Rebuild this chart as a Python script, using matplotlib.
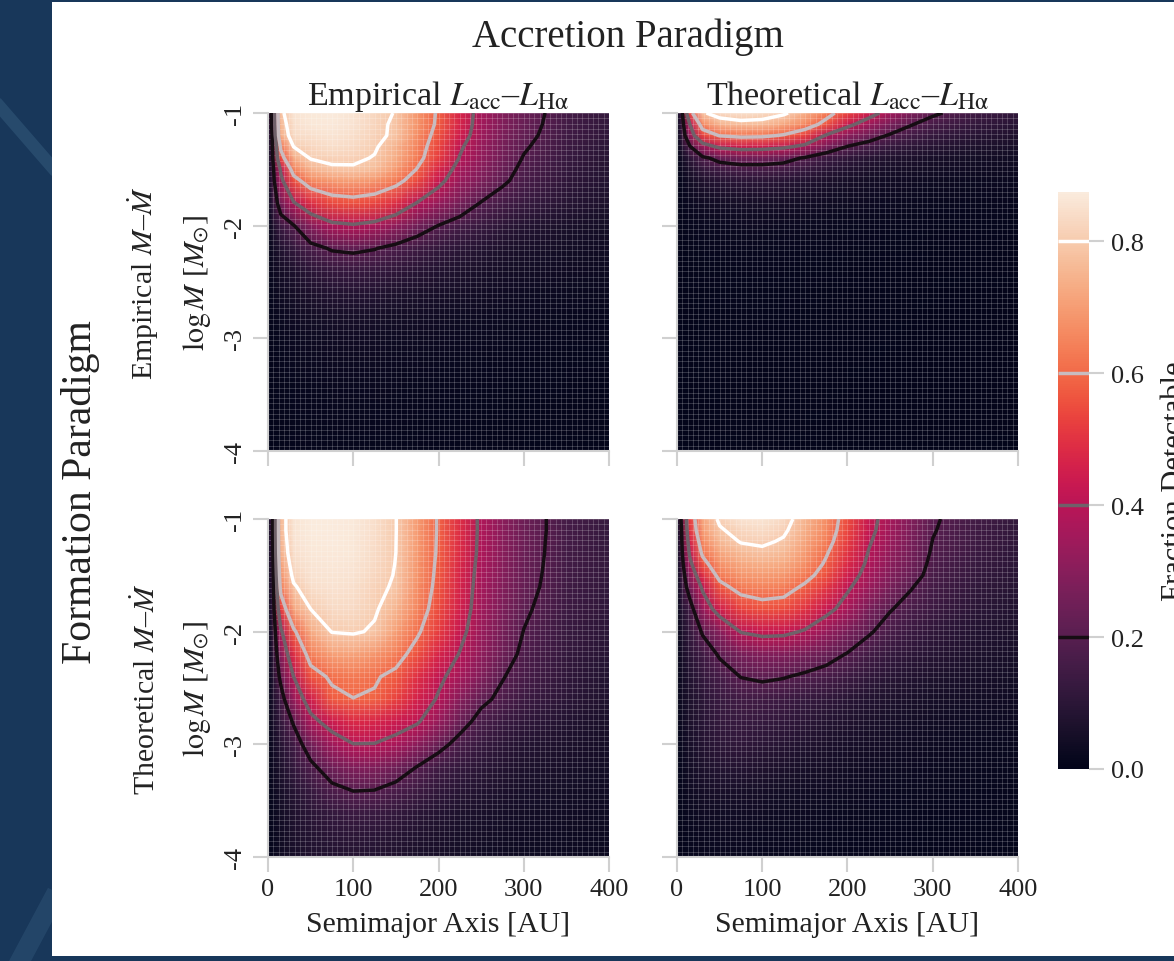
import numpy as np
import matplotlib
matplotlib.use("Agg")
import matplotlib.pyplot as plt
import seaborn as sns
from matplotlib.patches import Rectangle
from matplotlib.lines import Line2D
from matplotlib.colors import Normalize

plt.rcParams['font.family'] = ['Liberation Serif', 'DejaVu Serif']
plt.rcParams['mathtext.fontset'] = 'stix'
plt.rcParams['axes.unicode_minus'] = False

# grid nodes: semimajor axis [AU] and log planet mass [Msun]
A_AU = [0, 5, 15, 30, 50, 75, 100, 125, 150, 175, 200, 225, 250, 275, 300, 350, 400]
LOG_M = [-1.0, -1.1, -1.2, -1.3, -1.4, -1.5, -1.6, -1.8, -2.0, -2.2,
         -2.4, -2.6, -2.8, -3.0, -3.2, -3.4, -3.6, -3.8, -4.0]

# fraction detectable, one row per LOG_M node (top row = -1.0)
EMP_FORM_EMP_ACC = [
    [0, .25, .78, .86, .87, .875, .86, .83, .795, .69, .585, .47, .36, .29, .24, .16, .12],
    [0, .24, .76, .85, .865, .87, .855, .825, .785, .685, .58, .465, .355, .285, .235, .155, .115],
    [0, .21, .74, .84, .85, .86, .845, .82, .785, .67, .56, .45, .345, .275, .225, .15, .11],
    [0, .19, .62, .80, .83, .845, .835, .81, .75, .65, .54, .415, .33, .265, .21, .14, .10],
    [0, .18, .55, .74, .805, .82, .815, .795, .735, .635, .52, .395, .32, .255, .195, .13, .09],
    [0, .16, .42, .65, .75, .785, .79, .77, .70, .595, .475, .36, .30, .235, .18, .12, .085],
    [0, .15, .37, .56, .66, .70, .71, .69, .635, .545, .43, .335, .28, .215, .17, .11, .08],
    [0, .11, .26, .39, .49, .545, .56, .54, .49, .395, .33, .26, .195, .16, .13, .09, .065],
    [0, .06, .14, .195, .30, .375, .39, .37, .315, .25, .198, .16, .13, .105, .085, .06, .045],
    [0, .04, .08, .12, .17, .21, .22, .205, .175, .145, .12, .10, .085, .07, .06, .045, .035],
    [0, .03, .05, .07, .10, .125, .13, .125, .11, .095, .08, .07, .06, .05, .045, .035, .03],
    [0, .02, .035, .05, .065, .08, .085, .08, .07, .062, .055, .048, .042, .037, .033, .027, .022],
    [0, .015, .025, .035, .045, .052, .055, .052, .047, .042, .038, .034, .03, .027, .025, .02, .017],
    [0, .012, .02, .027, .033, .037, .038, .037, .034, .031, .028, .026, .023, .021, .019, .016, .014],
    [0, .01, .016, .021, .025, .028, .029, .028, .026, .024, .022, .02, .018, .017, .015, .013, .011],
    [0, .008, .013, .017, .02, .022, .023, .022, .021, .019, .018, .016, .015, .014, .012, .011, .01],
    [0, .007, .011, .014, .016, .018, .018, .018, .017, .016, .015, .013, .012, .011, .01, .009, .008],
    [0, .006, .009, .012, .013, .015, .015, .015, .014, .013, .012, .011, .01, .009, .008, .008, .007],
    [0, .005, .008, .01, .011, .012, .012, .012, .011, .011, .01, .009, .008, .008, .007, .006, .006],
]

EMP_FORM_THEO_ACC = [
    [0, .15, .55, .79, .835, .85, .84, .815, .745, .64, .54, .445, .355, .28, .215, .15, .115],
    [0, .13, .40, .66, .755, .775, .77, .725, .66, .565, .43, .345, .27, .205, .165, .12, .095],
    [0, .10, .33, .53, .605, .625, .62, .59, .53, .39, .31, .245, .19, .155, .125, .095, .075],
    [0, .07, .19, .34, .42, .45, .445, .42, .37, .27, .195, .16, .125, .105, .09, .07, .055],
    [0, .04, .10, .18, .23, .25, .25, .235, .19, .14, .11, .09, .075, .065, .055, .045, .04],
    [0, .03, .07, .12, .15, .165, .165, .155, .13, .10, .08, .065, .055, .05, .045, .037, .032],
    [0, .02, .045, .075, .09, .10, .10, .095, .08, .065, .052, .045, .04, .035, .032, .027, .024],
    [0, .012, .025, .038, .045, .05, .05, .048, .042, .036, .031, .028, .025, .022, .02, .018, .016],
    [0, .008, .015, .022, .026, .028, .028, .027, .025, .022, .02, .018, .016, .015, .014, .012, .011],
    [0, .006, .011, .015, .017, .018, .018, .018, .017, .015, .014, .013, .012, .011, .01, .009, .008],
    [0, .005, .009, .012, .013, .014, .014, .014, .013, .012, .011, .01, .009, .009, .008, .007, .007],
    [0, .004, .007, .01, .011, .012, .012, .012, .011, .01, .009, .009, .008, .008, .007, .006, .006],
    [0, .004, .006, .009, .01, .011, .011, .011, .01, .009, .008, .008, .007, .007, .006, .006, .005],
    [0, .003, .006, .008, .009, .01, .01, .01, .009, .008, .008, .007, .007, .006, .006, .005, .005],
    [0, .003, .005, .007, .008, .009, .009, .009, .008, .008, .007, .007, .006, .006, .005, .005, .004],
    [0, .003, .005, .007, .008, .008, .008, .008, .008, .007, .007, .006, .006, .005, .005, .004, .004],
    [0, .003, .005, .006, .007, .008, .008, .008, .007, .007, .006, .006, .005, .005, .005, .004, .004],
    [0, .002, .004, .006, .007, .007, .007, .007, .007, .006, .006, .005, .005, .005, .004, .004, .004],
    [0, .002, .004, .005, .006, .007, .007, .007, .006, .006, .005, .005, .005, .004, .004, .004, .003],
]

THEO_FORM_EMP_ACC = [
    [0, .17, .76, .86, .872, .875, .87, .845, .802, .70, .59, .49, .38, .305, .245, .16, .13],
    [0, .17, .76, .86, .872, .875, .87, .845, .802, .70, .59, .49, .38, .305, .245, .16, .125],
    [0, .165, .75, .855, .87, .873, .868, .843, .801, .698, .588, .488, .378, .303, .243, .158, .123],
    [0, .16, .74, .85, .865, .87, .865, .84, .80, .697, .586, .486, .376, .302, .241, .157, .121],
    [0, .15, .71, .84, .86, .865, .86, .835, .798, .69, .58, .478, .37, .298, .238, .155, .12],
    [0, .14, .68, .82, .855, .86, .855, .83, .795, .685, .575, .47, .365, .295, .235, .152, .118],
    [0, .13, .64, .79, .845, .855, .85, .82, .79, .675, .57, .465, .36, .29, .23, .15, .115],
    [0, .12, .52, .72, .80, .835, .835, .81, .755, .655, .55, .455, .35, .28, .215, .14, .11],
    [0, .10, .38, .58, .73, .803, .81, .79, .71, .615, .52, .43, .335, .265, .198, .13, .10],
    [0, .085, .30, .49, .64, .71, .715, .69, .64, .56, .47, .395, .315, .245, .18, .12, .09],
    [0, .07, .23, .40, .56, .615, .63, .61, .575, .495, .42, .36, .285, .205, .165, .11, .08],
    [0, .06, .15, .33, .45, .575, .598, .59, .53, .46, .39, .30, .22, .18, .14, .10, .075],
    [0, .05, .12, .21, .37, .44, .48, .47, .44, .41, .33, .235, .17, .135, .11, .08, .06],
    [0, .04, .09, .15, .25, .35, .398, .397, .37, .31, .23, .17, .13, .105, .085, .065, .05],
    [0, .03, .07, .12, .18, .25, .29, .285, .25, .198, .15, .12, .10, .085, .07, .055, .045],
    [0, .025, .055, .09, .13, .18, .205, .202, .175, .145, .115, .095, .08, .068, .058, .047, .04],
    [0, .02, .045, .075, .10, .125, .14, .135, .12, .10, .085, .07, .06, .052, .045, .038, .032],
    [0, .018, .04, .065, .085, .10, .105, .10, .09, .078, .066, .056, .048, .042, .037, .032, .028],
    [0, .015, .035, .055, .072, .082, .085, .08, .072, .063, .055, .047, .04, .036, .032, .028, .025],
]

THEO_FORM_THEO_ACC = [
    [0, .21, .52, .72, .815, .855, .86, .835, .755, .67, .55, .43, .36, .285, .21, .155, .12],
    [0, .19, .50, .70, .79, .83, .84, .815, .74, .66, .54, .425, .35, .28, .205, .15, .115],
    [0, .18, .46, .66, .76, .805, .815, .79, .72, .64, .52, .41, .335, .27, .198, .145, .11],
    [0, .17, .42, .62, .72, .765, .78, .765, .70, .61, .50, .395, .32, .26, .19, .14, .105],
    [0, .15, .37, .56, .68, .725, .74, .73, .675, .585, .48, .38, .305, .25, .18, .13, .10],
    [0, .13, .31, .49, .63, .69, .70, .69, .635, .555, .45, .36, .29, .235, .17, .125, .095],
    [0, .11, .26, .42, .57, .64, .655, .645, .585, .51, .415, .34, .27, .205, .16, .115, .09],
    [0, .08, .15, .33, .45, .53, .56, .55, .50, .43, .36, .27, .205, .17, .14, .10, .08],
    [0, .06, .12, .21, .30, .405, .43, .425, .39, .33, .27, .21, .165, .135, .11, .08, .065],
    [0, .05, .10, .15, .21, .27, .29, .285, .265, .235, .195, .155, .125, .105, .09, .07, .055],
    [0, .04, .08, .12, .16, .202, .215, .205, .185, .165, .14, .115, .095, .08, .07, .055, .045],
    [0, .035, .07, .10, .13, .15, .15, .14, .125, .11, .095, .08, .07, .06, .052, .042, .035],
    [0, .03, .065, .095, .12, .13, .125, .115, .10, .085, .072, .062, .054, .047, .041, .034, .028],
    [0, .025, .055, .085, .105, .11, .10, .09, .078, .066, .056, .048, .042, .037, .032, .027, .023],
    [0, .02, .045, .07, .085, .085, .075, .066, .057, .049, .042, .037, .033, .029, .026, .022, .019],
    [0, .015, .035, .05, .06, .058, .052, .046, .04, .035, .031, .028, .025, .023, .021, .018, .016],
    [0, .012, .025, .035, .04, .04, .036, .032, .029, .026, .023, .021, .019, .018, .016, .014, .013],
    [0, .01, .018, .025, .028, .028, .026, .024, .022, .02, .018, .016, .015, .014, .013, .012, .011],
    [0, .008, .014, .019, .021, .021, .02, .019, .017, .016, .015, .014, .013, .012, .011, .01, .009],
]

COL_TITLES = [r'Empirical $L_{\mathrm{acc}}$–$L_{\mathrm{H\alpha}}$',
              r'Theoretical $L_{\mathrm{acc}}$–$L_{\mathrm{H\alpha}}$']
ROW_TITLES = [r'Empirical $M$–$\dot{M}$', r'Theoretical $M$–$\dot{M}$']
LEVELS = [0.2, 0.4, 0.6, 0.8]
LEVEL_COLORS = ['#160d13', '#6f6169', '#c8bcc0', '#ffffff']
X_TICKS = [0, 100, 200, 300, 400]
Y_TICKS = [-1, -2, -3, -4]
CBAR_TICKS = [0.0, 0.2, 0.4, 0.6, 0.8]

TEXT = '#222222'
TICK = '#d0d0d0'

W, H = 1174, 962
fig = plt.figure(figsize=(W / 100, H / 100), dpi=100, facecolor='#18375a')

# white page on the slide background, with a couple of faint streaks on the margin
fig.patches.append(Rectangle((52 / W, 5 / H), 1 - 52 / W, 1 - 8 / H,
                             transform=fig.transFigure, facecolor='white',
                             edgecolor='none', zorder=-5))
fig.lines.append(Line2D([0, 52 / W], [1 - 108 / H, 1 - 168 / H], transform=fig.transFigure,
                        color='#3a6284', lw=9, alpha=0.45, zorder=-6))
fig.lines.append(Line2D([20 / W, 52 / W], [0, 60 / H], transform=fig.transFigure,
                        color='#3a6284', lw=14, alpha=0.35, zorder=-6))

rocket = sns.color_palette('rocket', as_cmap=True)
grids = [[EMP_FORM_EMP_ACC, EMP_FORM_THEO_ACC],
         [THEO_FORM_EMP_ACC, THEO_FORM_THEO_ACC]]
norm = Normalize(0, max(np.max(g) for row in grids for g in row))

A, LM = np.meshgrid(A_AU, LOG_M)
lefts = [268, 677]
tops = [114, 520]
pw, ph = 341, 338
cell_x = np.linspace(0, 400, 65)
cell_y = np.linspace(-4, -1, 65)

for r in range(2):
    for c in range(2):
        ax = fig.add_axes([lefts[c] / W, 1 - (tops[r] + ph) / H, pw / W, ph / H])
        ax.patch.set_alpha(0)
        z = np.array(grids[r][c])
        mesh = ax.pcolormesh(A, LM, z, cmap=rocket, norm=norm, shading='gouraud',
                             rasterized=True, zorder=1)
        # thin cell edges of the underlying detection grid
        ax.vlines(cell_x, -4, -1, colors='white', lw=0.6, alpha=0.22, zorder=1.5)
        ax.hlines(cell_y, 0, 400, colors='white', lw=0.6, alpha=0.22, zorder=1.5)
        cs = ax.contour(A, LM, z, levels=LEVELS, colors=LEVEL_COLORS,
                        linewidths=2.5, zorder=2)
        ax.set_xlim(0, 400)
        ax.set_ylim(-4, -1)
        ax.set_xticks(X_TICKS)
        ax.set_yticks(Y_TICKS)
        for side in ['top', 'right']:
            ax.spines[side].set_visible(False)
        for side in ['left', 'bottom']:
            ax.spines[side].set_color(TICK)
            ax.spines[side].set_linewidth(1.5)
        ax.tick_params(length=11, width=1.5, color=TICK, labelsize=19, labelcolor=TEXT)
        ax.tick_params(axis='x', pad=4)
        ax.tick_params(axis='y', pad=5, labelrotation=90)
        for lab in ax.get_yticklabels():
            lab.set_va('center')
        if r == 0:
            ax.set_title(COL_TITLES[c], fontsize=24.5, pad=6, color=TEXT)
            ax.set_xticklabels([])
        else:
            ax.set_xlabel('Semimajor Axis [AU]', fontsize=21.5, color=TEXT, labelpad=8)
        if c == 0:
            ax.set_ylabel(ROW_TITLES[r] + '\n' + r'$\log M$ [$M_{\odot}$]',
                          fontsize=21.5, color=TEXT, linespacing=1.85, labelpad=8)
        else:
            ax.set_yticklabels([])

cax = fig.add_axes([1058 / W, 1 - 770 / H, 31 / W, 577 / H])
cbar = fig.colorbar(mesh, cax=cax, ticks=CBAR_TICKS)
cbar.add_lines(cs)
cbar.outline.set_visible(False)
cbar.ax.set_yticklabels([f'{t:.1f}' for t in CBAR_TICKS])
cbar.ax.tick_params(length=11, width=1.5, color=TICK, labelsize=19,
                    labelcolor=TEXT, pad=5)
cbar.set_label('Fraction Detectable', fontsize=22, color=TEXT, labelpad=12)

fig.text(628 / W, 1 - 37 / H, 'Accretion Paradigm', fontsize=28, ha='center',
         va='center', color=TEXT)
fig.text(81 / W, 1 - 492 / H, 'Formation Paradigm', fontsize=30, ha='center',
         va='center', rotation=90, color=TEXT)

fig.savefig('out.png', dpi=100, facecolor=fig.get_facecolor())
